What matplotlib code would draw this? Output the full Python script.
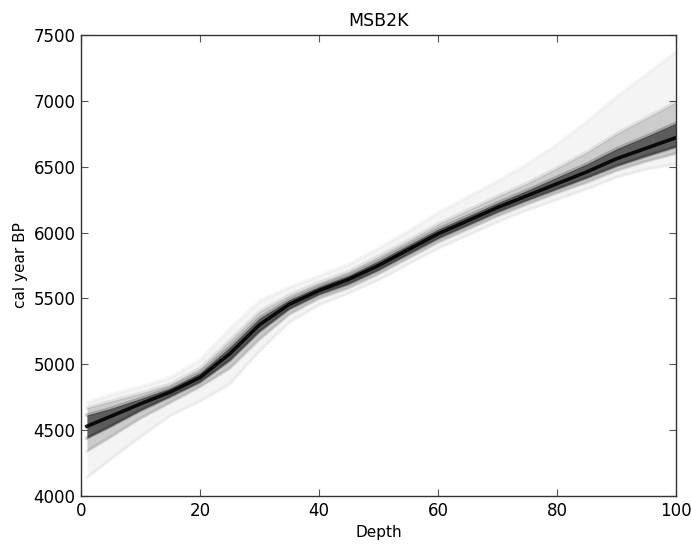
import matplotlib
matplotlib.use("Agg")
import matplotlib.pyplot as plt

# Depth knots and age quantile curves (cal year BP)
depth = [1, 5, 10, 15, 20, 25, 30, 35, 40, 45, 50, 55, 60, 65, 70, 75, 80, 85, 90, 95, 100]
age_q02 = [4140, 4280, 4450, 4610, 4720, 4850, 5100, 5320, 5450, 5540, 5640, 5760, 5880, 5980, 6080, 6170, 6250, 6330, 6420, 6480, 6520]
age_q10 = [4340, 4450, 4590, 4710, 4830, 4970, 5190, 5380, 5500, 5580, 5685, 5805, 5925, 6025, 6125, 6215, 6300, 6380, 6470, 6540, 6600]
age_q25 = [4440, 4530, 4650, 4755, 4865, 5030, 5250, 5420, 5530, 5610, 5715, 5835, 5955, 6055, 6155, 6245, 6330, 6415, 6505, 6580, 6650]
age_q50 = [4530, 4605, 4700, 4790, 4900, 5080, 5300, 5455, 5560, 5645, 5750, 5870, 5990, 6090, 6190, 6280, 6370, 6460, 6560, 6640, 6720]
age_q75 = [4615, 4665, 4740, 4820, 4935, 5130, 5350, 5490, 5590, 5675, 5785, 5905, 6025, 6125, 6225, 6320, 6420, 6520, 6635, 6730, 6830]
age_q90 = [4670, 4720, 4780, 4850, 4970, 5180, 5400, 5525, 5620, 5705, 5820, 5940, 6065, 6170, 6275, 6375, 6490, 6610, 6750, 6870, 6990]
age_q98 = [4710, 4770, 4830, 4900, 5030, 5270, 5480, 5585, 5670, 5760, 5880, 6010, 6150, 6270, 6390, 6520, 6670, 6840, 7030, 7200, 7370]

xticks = [0, 20, 40, 60, 80, 100]
yticks = [4000, 4500, 5000, 5500, 6000, 6500, 7000, 7500]

plt.rcParams['font.family'] = ['DejaVu Sans']
fig = plt.figure(figsize=(6.92, 5.44), dpi=100, facecolor='white')
ax = fig.add_axes([0.117, 0.088, 0.860, 0.848])

# nested density bands (darker towards the median)
ax.fill_between(depth, age_q02, age_q98, color='black', alpha=0.045, lw=0)
ax.fill_between(depth, age_q10, age_q90, color='black', alpha=0.16, lw=0)
ax.fill_between(depth, age_q25, age_q75, color='black', alpha=0.55, lw=0)
for q, a in [(age_q02, 0.04), (age_q98, 0.04), (age_q10, 0.08), (age_q90, 0.08),
             (age_q25, 0.2), (age_q75, 0.2)]:
    ax.plot(depth, q, color='black', alpha=a, lw=2.5, solid_joinstyle='round')
ax.plot(depth, age_q50, color='black', alpha=0.9, lw=2.6, solid_joinstyle='round')

ax.set_xlim(0, 100)
ax.set_ylim(4000, 7500)
ax.set_xticks(xticks)
ax.set_yticks(yticks)
ax.tick_params(direction='in', top=True, right=True, length=5, width=0.8,
               labelsize=12, color='#555555', pad=4)
for s in ax.spines.values():
    s.set_linewidth(1.0)
    s.set_color('#333333')
ax.set_title('MSB2K', fontsize=12.5, pad=6)
ax.set_xlabel('Depth', fontsize=11)
ax.set_ylabel('cal year BP', fontsize=11)

fig.savefig('out.png', dpi=100, facecolor='white')
